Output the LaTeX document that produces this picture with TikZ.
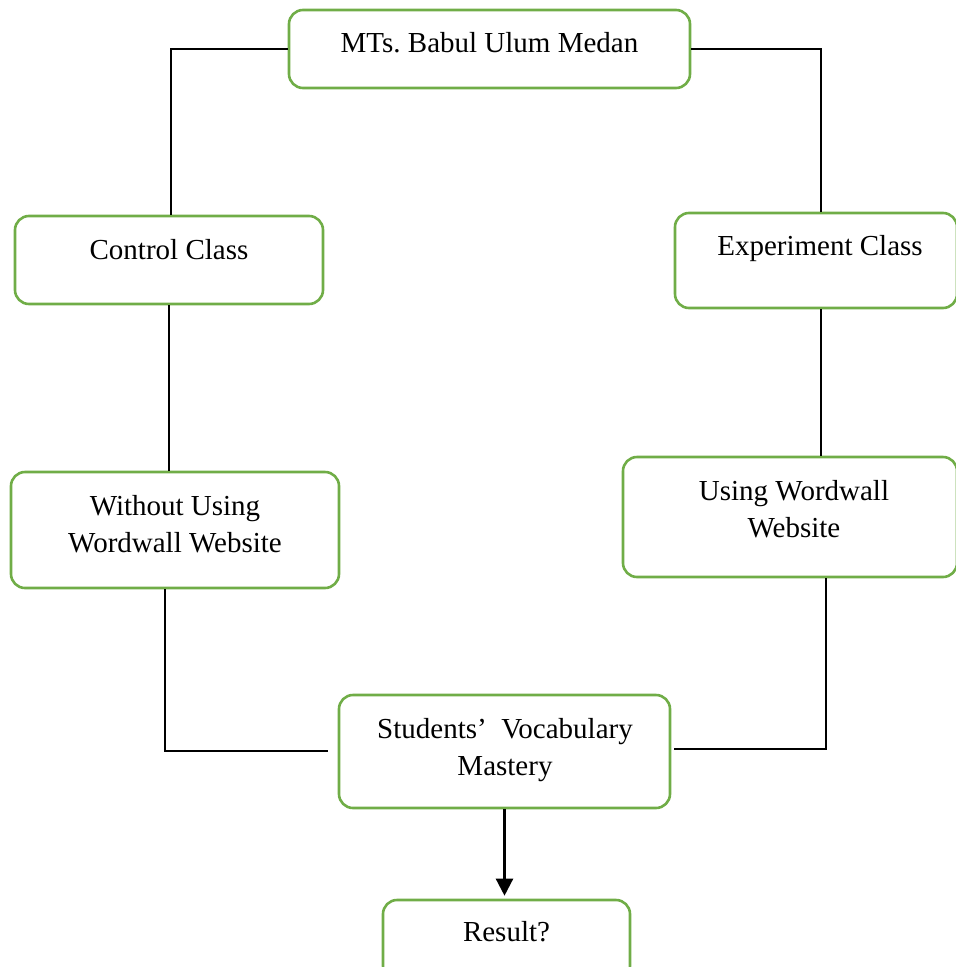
\documentclass[tikz,border=0pt]{standalone}
\usepackage{fontspec}
\setmainfont{Liberation Serif}
\usetikzlibrary{arrows.meta}
\definecolor{boxgreen}{HTML}{70AD47}
\begin{document}
\begin{tikzpicture}[x=1pt,y=-1pt,
  gbox/.style={draw=boxgreen,line width=2.6pt,rounded corners=14pt,inner sep=0pt},
  lbl/.style={anchor=base,align=center,inner sep=0pt,font=\fontsize{29}{36.5}\selectfont},
  conn/.style={draw=black,line width=1.3pt},
  arr/.style={draw=black,line width=2.4pt,-{Triangle[length=17pt,width=17pt]},shorten >=3pt}]
\useasboundingbox (0,0) rectangle (956,967);
\clip (0,0) rectangle (956,967);
% boxes
\node[gbox,minimum width=401pt,minimum height=78pt] (mts) at (489.5,49) {};
\node[gbox,minimum width=308pt,minimum height=88pt] (ctrl) at (169,260) {};
\node[gbox,minimum width=282pt,minimum height=95pt] (exp) at (816,260.5) {};
\node[gbox,minimum width=328pt,minimum height=116pt] (wo) at (175,530) {};
\node[gbox,minimum width=334pt,minimum height=120pt] (using) at (790,517) {};
\node[gbox,minimum width=331pt,minimum height=113pt] (stud) at (504.5,751.5) {};
\node[gbox,minimum width=247pt,minimum height=80pt] (res) at (506.5,940) {};
% texts (base anchor = baseline of the last line)
\node[lbl] (tmts) at (489.5,52) {MTs.\ Babul Ulum Medan};
\node[lbl] (tctrl) at (169,259) {Control Class};
\node[lbl] (texp) at (820,255) {Experiment Class};
\node[lbl] (two) at (175,552) {Without Using\\Wordwall Website};
\node[lbl] (tusing) at (794,537) {Using Wordwall\\Website};
\node[lbl] (tstud) at (505,775) {Students'\hspace{0.5em}Vocabulary\\Mastery};
\node[lbl] (tres) at (506.5,941) {Result?};
% column coordinates
\coordinate (c1) at (171,0);
\coordinate (c2) at (821,0);
\coordinate (c3) at (165,0);
\coordinate (c5) at (826,0);
\coordinate (wend) at (328,751);
\coordinate (uend) at (674,749);
% connectors
\draw[conn] (mts.west) -| (ctrl.north -| c1);
\draw[conn] (mts.east) -| (exp.north -| c2);
\draw[conn] (ctrl.south) -- (ctrl.south |- wo.north);
\draw[conn] (exp.south -| c2) -- (using.north -| c2);
\draw[conn] (wo.south -| c3) |- (wend);
\draw[conn] (using.south -| c5) |- (uend);
\draw[arr] (stud.south) -- (stud.south |- res.north);
\end{tikzpicture}
\end{document}
